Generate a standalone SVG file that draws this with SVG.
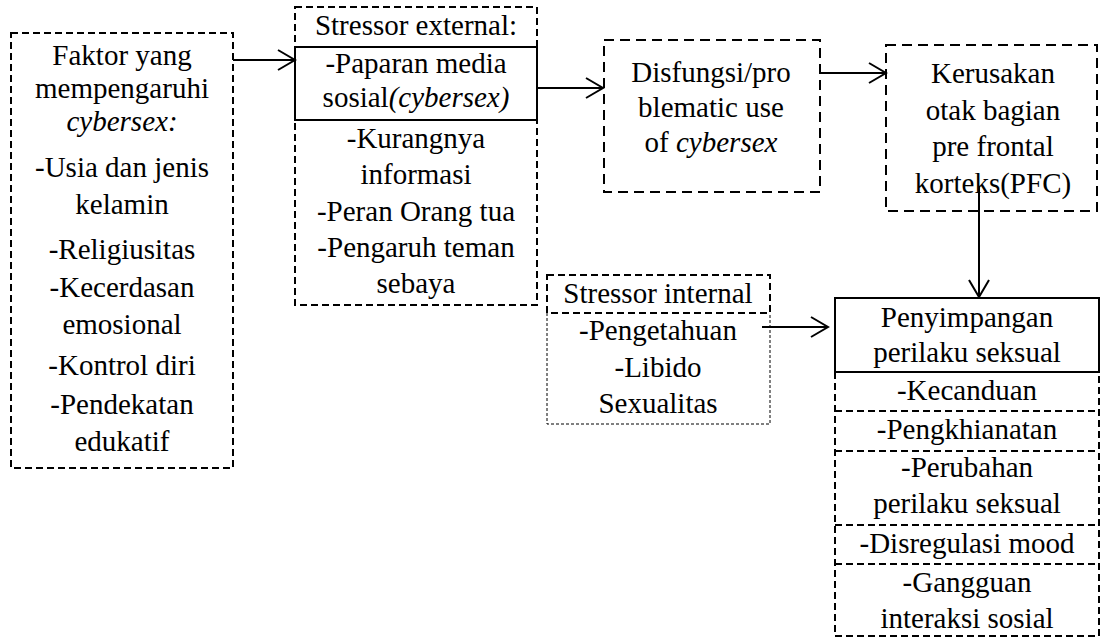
<svg xmlns="http://www.w3.org/2000/svg" width="1102" height="638" viewBox="0 0 1102 638">
<style>
text{font-size:29px;fill:#000;text-anchor:middle}
.i{font-style:italic}
.d{fill:none;stroke:#000;stroke-width:2;stroke-dasharray:7 4}
.dl{fill:none;stroke:#000;stroke-width:2;stroke-dasharray:10 6}
.df{fill:none;stroke:#000;stroke-width:1;stroke-dasharray:3 2}
.s{fill:none;stroke:#000;stroke-width:2}
.c{fill:none;stroke:#000;stroke-width:2}
</style>
<defs>
<marker id="arr" viewBox="0 0 20 24" refX="18" refY="12" markerWidth="20" markerHeight="24" orient="auto" markerUnits="userSpaceOnUse"><path d="M1,2 L18,12 L1,22" fill="none" stroke="#000" stroke-width="2"/></marker>
</defs>
<rect width="1102" height="638" fill="#fff"/>
<g font-family="'Liberation Serif', 'Times New Roman', Times, 'Nimbus Roman', 'DejaVu Serif', serif">
<g id="faktor">
<rect class="d" x="11" y="33" width="222" height="435"/>
<text x="122" y="65">Faktor yang</text>
<text x="122" y="98">mempengaruhi</text>
<text x="122" y="131" class="i">cybersex:</text>
<text x="122" y="177">-Usia dan jenis</text>
<text x="122" y="214">kelamin</text>
<text x="122" y="259">-Religiusitas</text>
<text x="122" y="297">-Kecerdasan</text>
<text x="122" y="334">emosional</text>
<text x="122" y="375">-Kontrol diri</text>
<text x="122" y="414">-Pendekatan</text>
<text x="122" y="451">edukatif</text>
</g>

<g id="stressor-external">
<rect class="d" x="295" y="7" width="242" height="298"/>
<rect class="s" x="295" y="47" width="242" height="73"/>
<text x="416" y="35">Stressor external:</text>
<text x="416" y="73">-Paparan media</text>
<text x="416" y="107">sosial<tspan class="i">(cybersex)</tspan></text>
<text x="416" y="148">-Kurangnya</text>
<text x="416" y="184">informasi</text>
<text x="416" y="221">-Peran Orang tua</text>
<text x="416" y="257">-Pengaruh teman</text>
<text x="416" y="293">sebaya</text>
</g>

<g id="disfungsi">
<rect class="dl" x="604" y="40" width="216" height="152"/>
<text x="711" y="82">Disfungsi/pro</text>
<text x="711" y="117">blematic use</text>
<text x="711" y="152">of <tspan class="i">cybersex</tspan></text>
</g>

<g id="kerusakan">
<rect class="dl" x="886" y="45" width="211" height="166"/>
<text x="993" y="83">Kerusakan</text>
<text x="993" y="120">otak bagian</text>
<text x="993" y="156">pre frontal</text>
<text x="993" y="193">korteks(PFC)</text>
</g>

<g id="stressor-internal">
<rect class="d" x="547" y="275" width="223" height="38"/>
<path class="df" d="M547,313 V424 H770 V313"/>
<text x="658" y="303">Stressor internal</text>
<text x="658" y="340">-Pengetahuan</text>
<text x="658" y="377">-Libido</text>
<text x="658" y="413">Sexualitas</text>
</g>

<g id="penyimpangan">
<rect class="s" x="835" y="298" width="264" height="74"/>
<path class="d" d="M835,372 V636 H1099 V372"/>
<path class="d" d="M835,411 H1099 M835,451 H1099 M835,525 H1099 M835,564 H1099"/>
<text x="967" y="327">Penyimpangan</text>
<text x="967" y="362">perilaku seksual</text>
<text x="967" y="400">-Kecanduan</text>
<text x="967" y="439">-Pengkhianatan</text>
<text x="967" y="477">-Perubahan</text>
<text x="967" y="513">perilaku seksual</text>
<text x="967" y="553">-Disregulasi mood</text>
<text x="967" y="592">-Gangguan</text>
<text x="967" y="628">interaksi sosial</text>
</g>
</g>
<g id="connectors">
<line class="c" x1="233" y1="60" x2="295" y2="60" marker-end="url(#arr)"/>
<line class="c" x1="537" y1="88" x2="603" y2="88" marker-end="url(#arr)"/>
<line class="c" x1="820" y1="73" x2="886" y2="73" marker-end="url(#arr)"/>
<line class="c" x1="979" y1="187" x2="979" y2="297" marker-end="url(#arr)"/>
<line class="c" x1="762" y1="327" x2="828" y2="327" marker-end="url(#arr)"/>
</g>
</svg>
